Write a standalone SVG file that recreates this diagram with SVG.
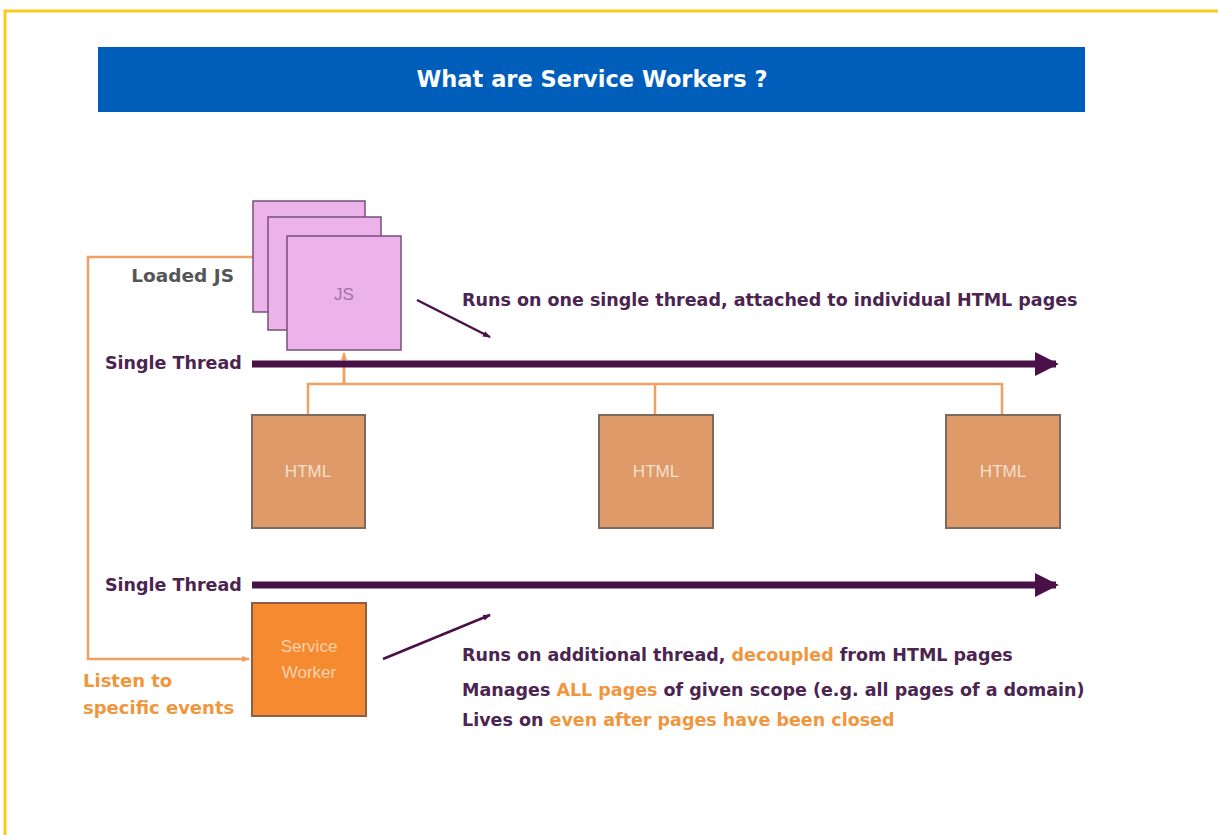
<svg xmlns="http://www.w3.org/2000/svg" width="1218" height="835" viewBox="0 0 1218 835">
<style>
.lbl{font-family:"DejaVu Sans","Liberation Sans",Arial,sans-serif;font-weight:bold;font-size:17.5px;fill:#4b2450}
.big{font-size:18px}
.or{fill:#f0963c}
.gray{font-family:"DejaVu Sans","Liberation Sans",Arial,sans-serif;font-weight:bold;font-size:18.5px;fill:#555}
.box{font-family:"Liberation Sans",Arial,sans-serif;font-size:17px;text-anchor:middle}
.js{fill:#ecb2ea;stroke:#7a4f7a;stroke-width:1.5}
.html{fill:#de9a68;stroke:#7d6a5e;stroke-width:2}
.oline{fill:none;stroke:#f0a060;stroke-width:2.5}
.pline{fill:none;stroke:#4a1048}
</style>
<defs>
<marker id="thick" markerWidth="3.4" markerHeight="3.4" refX="3" refY="1.7" orient="auto" markerUnits="strokeWidth"><path d="M0,0 L3.4,1.7 L0,3.4 z" fill="#4a1048"/></marker>
<marker id="thin" markerWidth="8" markerHeight="8" refX="7" refY="4" orient="auto" markerUnits="userSpaceOnUse"><path d="M0,1 L8,4 L0,7 z" fill="#4a1048"/></marker>
<marker id="oar" markerWidth="8" markerHeight="8" refX="7" refY="4" orient="auto" markerUnits="userSpaceOnUse"><path d="M0,1 L8,4 L0,7 z" fill="#f0a060"/></marker>
</defs>
<rect x="0" y="0" width="1218" height="835" fill="#fff"/>
<rect x="5" y="11" width="1260" height="900" fill="none" stroke="#f5cd1a" stroke-width="3"/>
<g id="title">
<rect x="98" y="47" width="987" height="65" fill="#005ebb"/>
<text x="592" y="87" text-anchor="middle" font-family="DejaVu Sans, Liberation Sans, Arial, sans-serif" font-weight="bold" font-size="22.5" fill="#fff">What are Service Workers ?</text>
</g>
<g id="connectors">
<path class="oline" d="M253,257 H88 V659 H249" marker-end="url(#oar)"/>
<path class="oline" d="M308,415 V384 H1002 V415 M655,384 V415 M344,384 V360" />
<path class="oline" d="M344,384 V353" marker-end="url(#oar)"/>
<line class="pline" x1="252" y1="364" x2="1056" y2="364" stroke-width="7" marker-end="url(#thick)"/>
<line class="pline" x1="252" y1="585" x2="1056" y2="585" stroke-width="7" marker-end="url(#thick)"/>
<line class="pline" x1="417" y1="300" x2="490" y2="337" stroke-width="2.5" marker-end="url(#thin)"/>
<line class="pline" x1="383" y1="659" x2="490" y2="615" stroke-width="2.5" marker-end="url(#thin)"/>
</g>
<g id="loaded-js">
<rect class="js" x="253" y="201" width="112" height="111"/>
<rect class="js" x="268" y="217" width="113" height="113"/>
<rect class="js" x="287" y="236" width="114" height="114"/>
<text class="box" x="344" y="300" fill="#a472a2">JS</text>
<text class="gray" x="234" y="282" text-anchor="end">Loaded JS</text>
</g>
<g id="thread1-label"><text class="lbl" x="105" y="369">Single Thread</text></g>
<g id="thread2-label"><text class="lbl" x="105" y="591">Single Thread</text></g>
<g id="js-desc"><text class="lbl" x="462" y="306">Runs on one single thread, attached to individual HTML pages</text></g>
<g id="html1"><rect class="html" x="252" y="415" width="113" height="113"/><text class="box" x="308" y="477" fill="#f8e0cc">HTML</text></g>
<g id="html2"><rect class="html" x="599" y="415" width="114" height="113"/><text class="box" x="656" y="477" fill="#f8e0cc">HTML</text></g>
<g id="html3"><rect class="html" x="946" y="415" width="114" height="113"/><text class="box" x="1003" y="477" fill="#f8e0cc">HTML</text></g>
<g id="service-worker">
<rect x="252" y="603" width="114" height="113" fill="#f58a30" stroke="#8a5f45" stroke-width="2"/>
<text class="box" x="309" y="652" fill="#f9d2ac">Service</text>
<text class="box" x="309" y="678" fill="#f9d2ac">Worker</text>
</g>
<g id="listen-label">
<text class="lbl big or" x="83" y="687">Listen to</text>
<text class="lbl big or" x="83" y="714">specific events</text>
</g>
<g id="sw-desc">
<text class="lbl" x="462" y="661">Runs on additional thread, <tspan class="or">decoupled</tspan> from HTML pages</text>
<text class="lbl" x="462" y="696">Manages <tspan class="or">ALL pages</tspan> of given scope (e.g. all pages of a domain)</text>
<text class="lbl" x="462" y="726">Lives on <tspan class="or">even after pages have been closed</tspan></text>
</g>
</svg>
